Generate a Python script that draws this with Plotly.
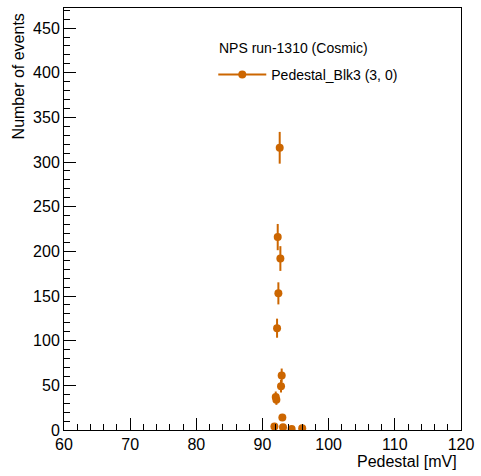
import numpy as np
import plotly.graph_objects as go

# Histogram bins (Pedestal in mV) and counts
pedestal = [91.8, 92.0, 92.1, 92.2, 92.3, 92.4, 92.6, 92.7, 92.8, 92.9, 93.0, 93.1, 94.4, 96.0]
counts   = [4,    37,   34,   114,  216,  153,  316,  192,  49,   61,   14,   3,    1,    2]
errors = list(np.sqrt(counts))

color = "#cc6600"
font_family = "Liberation Sans, Arial, Helvetica, sans-serif"

fig = go.Figure()
fig.add_trace(go.Scatter(
    x=pedestal, y=counts, mode="markers",
    marker=dict(color=color, size=8),
    error_y=dict(type="data", array=errors, visible=True, color=color, thickness=2, width=0),
    showlegend=False,
))
# legend entry
fig.add_trace(go.Scatter(
    x=[None], y=[None], mode="lines+markers", name="Pedestal_Blk3 (3, 0)",
    marker=dict(color=color, size=8), line=dict(color=color, width=2),
))

fig.update_layout(
    width=481, height=476,
    margin=dict(l=64, r=15, t=7, b=46),
    paper_bgcolor="white", plot_bgcolor="white",
    font=dict(family=font_family, size=16, color="black"),
    showlegend=True,
    legend=dict(
        x=0.376, y=0.8794, xanchor="left", yanchor="top",
        bgcolor="rgba(0,0,0,0)",
        font=dict(size=14),
        itemwidth=48,
    ),
    xaxis=dict(
        range=[60, 120], tickmode="linear", tick0=60, dtick=10,
        ticks="inside", ticklen=12, tickwidth=1, tickcolor="black",
        minor=dict(ticks="inside", ticklen=6, dtick=2, tickcolor="black", tickwidth=1),
        showline=True, linecolor="black", linewidth=1, mirror=True,
        showgrid=False, zeroline=False,
        tickfont=dict(size=16),
    ),
    yaxis=dict(
        range=[0, 472.5], tickmode="linear", tick0=0, dtick=50,
        ticks="inside", ticklen=12, tickwidth=1, tickcolor="black",
        minor=dict(ticks="inside", ticklen=6, dtick=10, tickcolor="black", tickwidth=1),
        showline=True, linecolor="black", linewidth=1, mirror=True,
        showgrid=False, zeroline=False,
        tickfont=dict(size=16),
    ),
    annotations=[
        dict(text="Pedestal [mV]", xref="paper", yref="paper", x=0.995, y=-0.0757,
             xanchor="right", yanchor="middle", showarrow=False, font=dict(size=16)),
        dict(text="Number of events", xref="paper", yref="paper", x=-0.1147, y=0.993,
             xanchor="center", yanchor="top", textangle=-90, showarrow=False, font=dict(size=16)),
        dict(text="NPS run-1310 (Cosmic)", xref="paper", yref="paper", x=0.3865, y=0.9054,
             xanchor="left", yanchor="middle", showarrow=False, font=dict(size=14)),
    ],
)

fig.write_html(
    "out.html",
    config={"displayModeBar": False, "responsive": False},
    post_script="document.body.style.margin='0';document.body.style.overflow='hidden';",
)
